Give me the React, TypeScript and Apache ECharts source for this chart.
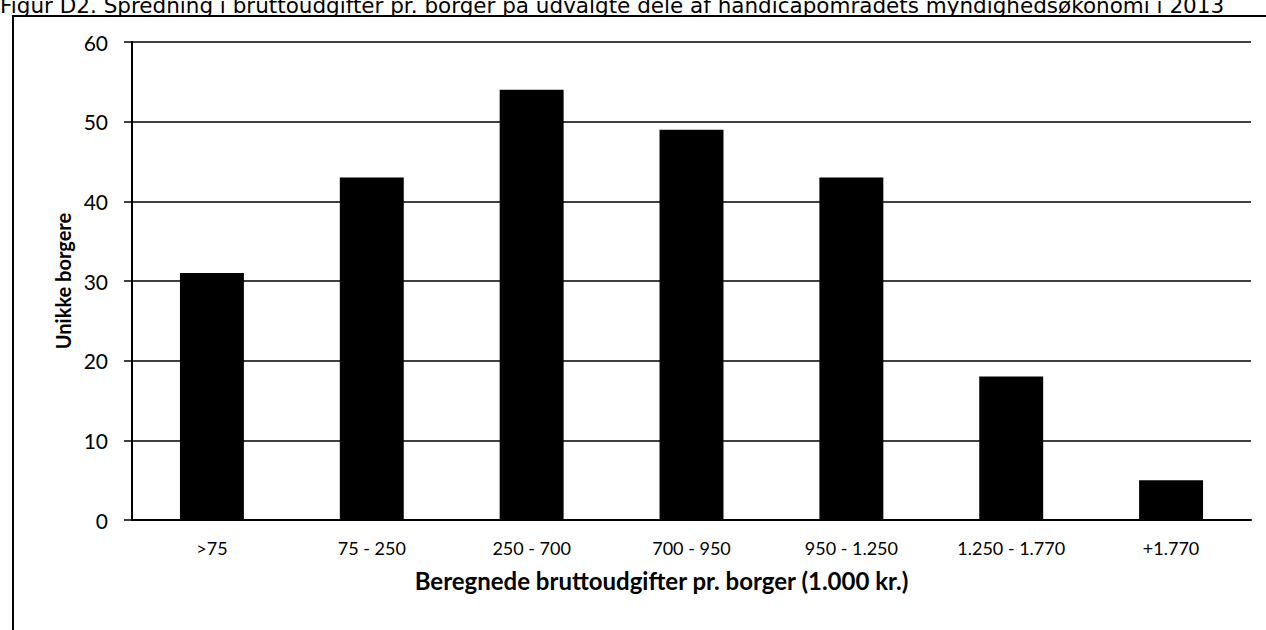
import React, { useEffect, useRef } from "react";
import * as echarts from "echarts";

const categories = [">75", "75 - 250", "250 - 700", "700 - 950", "950 - 1.250", "1.250 - 1.770", "+1.770"];
const values = [31, 43, 54, 49, 43, 18, 5];
const yTicks = { min: 0, max: 60, interval: 10 };
const titleText = "Figur D2. Spredning i bruttoudgifter pr. borger på udvalgte dele af handicapområdets myndighedsøkonomi i 2013";
const yAxisTitle = "Unikke borgere";
const xAxisTitle = "Beregnede bruttoudgifter pr. borger (1.000 kr.)";

export default function App() {
  const ref = useRef<HTMLDivElement>(null);
  useEffect(() => {
    if (!ref.current) return;
    const chart = echarts.init(ref.current, null, { renderer: "svg" });
    chart.setOption({
      animation: false,
      backgroundColor: "#ffffff",
      grid: { left: 132, right: 15, top: 42, bottom: 110, containLabel: false },
      graphic: [
        {
          type: "text",
          left: 0,
          top: -6,
          style: { text: titleText, font: "21.5px 'DejaVu Sans'", fill: "#000" },
        },
        {
          type: "rect",
          shape: { x: 13, y: 16, width: 1300, height: 700 },
          style: { fill: "none", stroke: "#000", lineWidth: 2 },
        },
      ],
      xAxis: {
        type: "category",
        data: categories,
        axisLine: { show: true, lineStyle: { color: "#000", width: 2 } },
        axisTick: { show: false },
        axisLabel: { color: "#000", fontSize: 18, fontFamily: "Lato", margin: 19 },
        name: xAxisTitle,
        nameLocation: "middle",
        nameGap: 48,
        nameTextStyle: { color: "#000", fontSize: 24, fontWeight: "bold", fontFamily: "Lato", padding: [0, 60, 0, 0] },
      },
      yAxis: {
        type: "value",
        min: yTicks.min,
        max: yTicks.max,
        interval: yTicks.interval,
        axisLine: { show: true, lineStyle: { color: "#000", width: 2 } },
        axisTick: { show: true, length: 8, lineStyle: { color: "#000", width: 1.5 } },
        splitLine: { show: true, lineStyle: { color: "#000", width: 1.5 } },
        axisLabel: { color: "#000", fontSize: 21, fontFamily: "Lato", margin: 24 },
        name: yAxisTitle,
        nameLocation: "middle",
        nameGap: 48,
        nameRotate: 90,
        nameTextStyle: { color: "#000", fontSize: 20, fontWeight: "bold", fontFamily: "Lato" },
      },
      series: [
        {
          type: "bar",
          data: values,
          barWidth: "40%",
          itemStyle: { color: "#000" },
        },
      ],
    });
    return () => chart.dispose();
  }, []);
  return <div ref={ref} style={{ position: "fixed", left: 0, top: 0, width: 1266, height: 630 }} />;
}
